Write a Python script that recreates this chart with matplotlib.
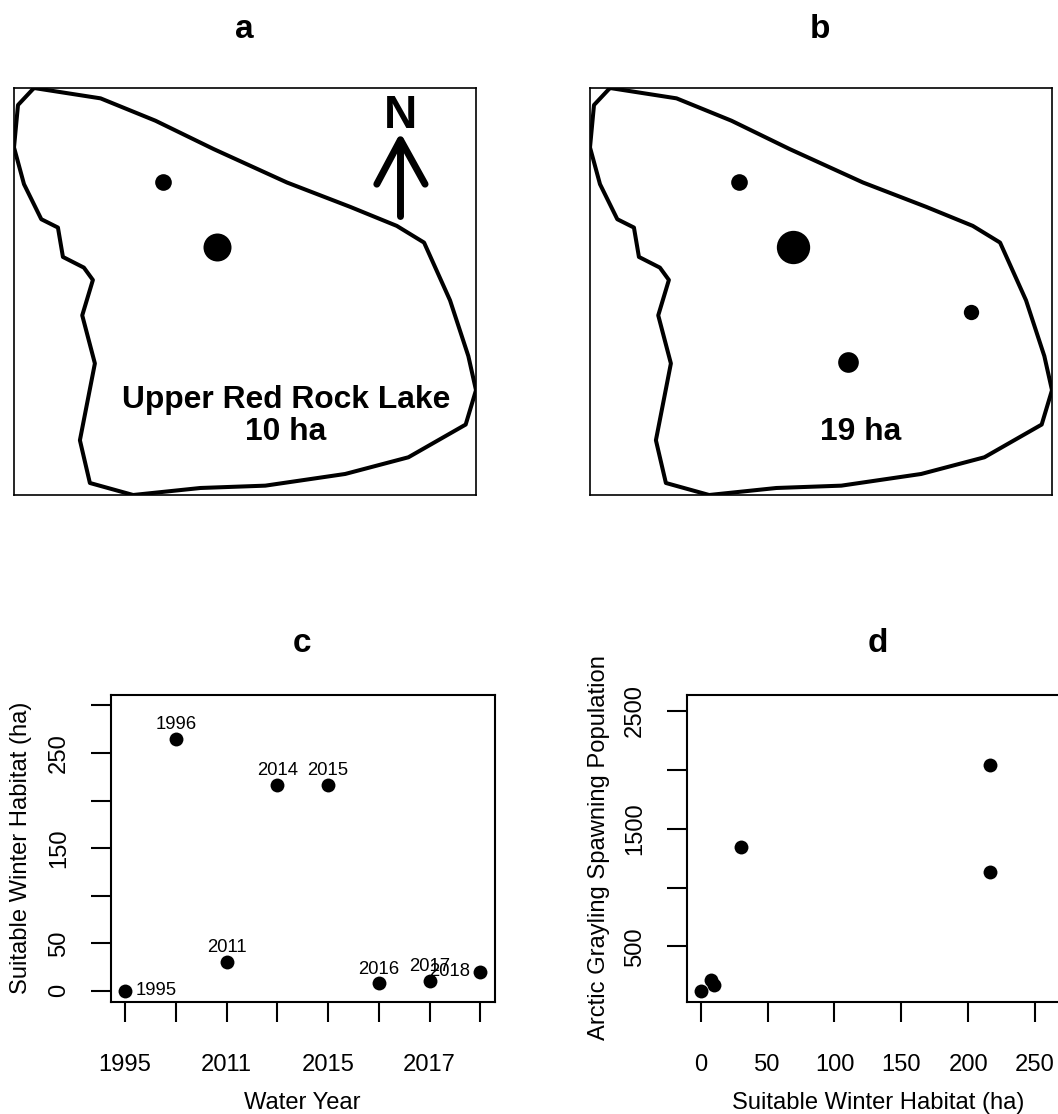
import matplotlib
matplotlib.use("Agg")
import matplotlib.pyplot as plt

plt.rcParams['font.family'] = ['Liberation Sans', 'DejaVu Sans']

# digitised lake outline (map units, y grows downward)
lake_x = [100, 52, 40, 70, 122, 172, 187, 250, 277, 245, 283, 238, 268, 398, 600, 795,
          1035, 1225, 1397, 1428, 1405, 1350, 1272, 1190, 1050, 860, 640, 465, 300, 100]
lake_y = [57, 108, 235, 345, 450, 475, 563, 595, 632, 738, 882, 1112, 1240, 1276, 1255, 1248,
          1213, 1163, 1065, 962, 860, 693, 520, 470, 413, 340, 240, 155, 88, 57]
# suitable-habitat patches: position and diameter in map units
a_x = [489, 651]
a_y = [338, 532]
a_d = [50, 84]
b_x = [487, 649, 814, 1186]
b_y = [339, 534, 879, 729]
b_d = [50, 100, 62, 46]
# north arrow
shaft_x = [1201, 1201]
shaft_y = [440, 212]
head_x = [1130, 1201, 1275]
head_y = [345, 212, 345]

years = ['1995', '1996', '2011', '2014', '2015', '2016', '2017', '2018']
year_pos = [1, 2, 3, 4, 5, 6, 7, 8]
habitat = [0, 265, 30, 216, 216, 8, 10, 20]
year_ticklabels = ['1995', '', '2011', '', '2015', '', '2017', '']
# label offsets (pixels -> points below)
off_x = [11, 0, 0, 0, 0, 0, 0, -10]
off_y = [0.5, 14.5, 14.5, 14.5, 14.5, 13.5, 14.5, 0]
off_ha = ['left', 'center', 'center', 'center', 'center', 'center', 'center', 'right']

c_yticks = [0, 50, 100, 150, 200, 250, 300]
c_ylabels = ['0', '50', '', '150', '', '250', '']

d_x = [0, 8, 10, 30, 216, 216]
d_y = [120, 211, 171, 1347, 2044, 1132]
d_xticks = [0, 50, 100, 150, 200, 250]
d_yticks = [500, 1000, 1500, 2000, 2500]
d_ylabels = ['500', '', '1500', '', '2500']

W, H = 1058, 1114
fig = plt.figure(figsize=(W / 100, H / 100), dpi=100, facecolor='white')
PT = 72 / 100


def make_axes(l, t, r, b):
    return fig.add_axes([l / W, 1 - b / H, (r - l) / W, (b - t) / H])


def map_panel(box, xs, ys, ds):
    ax = make_axes(*box)
    ax.set_xlim(40, 1428)
    ax.set_ylim(1276, 57)
    ax.set_xticks([])
    ax.set_yticks([])
    for s in ax.spines.values():
        s.set_linewidth(1.2)
        s.set_color('black')
    ax.plot(lake_x, lake_y, color='black', lw=2.9, solid_joinstyle='round')
    for x, y, d in zip(xs, ys, ds):
        ax.scatter([x], [y], s=(d / 3 * PT) ** 2, color='black', linewidths=0, zorder=3)
    return ax


ax_a = map_panel((14, 88, 476, 495), a_x, a_y, a_d)
ax_b = map_panel((590, 88, 1052, 495), b_x, b_y, b_d)
ax_a.plot(shaft_x, shaft_y, color='black', lw=5, solid_capstyle='round')
ax_a.plot(head_x, head_y, color='black', lw=5, solid_capstyle='round', solid_joinstyle='round')
ax_a.text(1201, 142, 'N', fontsize=33, fontweight='bold', ha='center', va='center')
ax_a.text(857, 990, 'Upper Red Rock Lake', fontsize=22.9, fontweight='bold', ha='center', va='center')
ax_a.text(857, 1087, '10 ha', fontsize=22.9, fontweight='bold', ha='center', va='center')
ax_b.text(853, 1087, '19 ha', fontsize=22.9, fontweight='bold', ha='center', va='center')

TICK = 20 * PT
LW = 1.5


def style(ax):
    for s in ax.spines.values():
        s.set_linewidth(LW)
    ax.tick_params(axis='both', length=TICK, width=LW, labelsize=17.1, color='black')
    ax.tick_params(axis='x', pad=23)
    ax.tick_params(axis='y', pad=15)
    for t in ax.get_yticklabels():
        t.set_rotation(90)
        t.set_va('center')


ax_c = make_axes(110.7, 695, 494.7, 1002)
ax_c.set_xlim(0.72, 8.28)
ax_c.set_ylim(-11.9, 311)
ax_c.set_xticks(year_pos)
ax_c.set_xticklabels(year_ticklabels)
ax_c.set_yticks(c_yticks)
ax_c.set_yticklabels(c_ylabels)
style(ax_c)
ax_c.plot(year_pos, habitat, 'o', color='black', ms=10, mew=0, clip_on=False)
for p, h, lab, ox, oy, ha in zip(year_pos, habitat, years, off_x, off_y, off_ha):
    ax_c.annotate(lab, (p, h), xytext=(ox * PT, oy * PT), textcoords='offset points',
                  ha=ha, va='center', fontsize=13.3)

ax_d = make_axes(686.7, 695, 1070.7, 1002)
ax_d.set_xlim(-10.5, 276.7)
ax_d.set_ylim(27, 2636)
ax_d.set_xticks(d_xticks)
ax_d.set_yticks(d_yticks)
ax_d.set_yticklabels(d_ylabels)
style(ax_d)
ax_d.plot(d_x, d_y, 'o', color='black', ms=10, mew=0)

# titles and axis labels, placed by figure pixels
def fig_text(x, y, s, **kw):
    fig.text(x / W, 1 - y / H, s, ha='center', va='center', **kw)


for x, y, s in [(244, 29.5, 'a'), (820, 29.5, 'b'), (302, 643.5, 'c'), (878, 643.5, 'd')]:
    fig_text(x, y, s, fontsize=24, fontweight='bold')
fig_text(302.7, 1103, 'Water Year', fontsize=17.1)
fig_text(878, 1103, 'Suitable Winter Habitat (ha)', fontsize=17.1)
fig_text(21, 848, 'Suitable Winter Habitat (ha)', fontsize=17.1, rotation=90)
fig_text(599, 848, 'Arctic Grayling Spawning Population', fontsize=17.1, rotation=90)

fig.savefig('out.png', dpi=100, facecolor='white')
